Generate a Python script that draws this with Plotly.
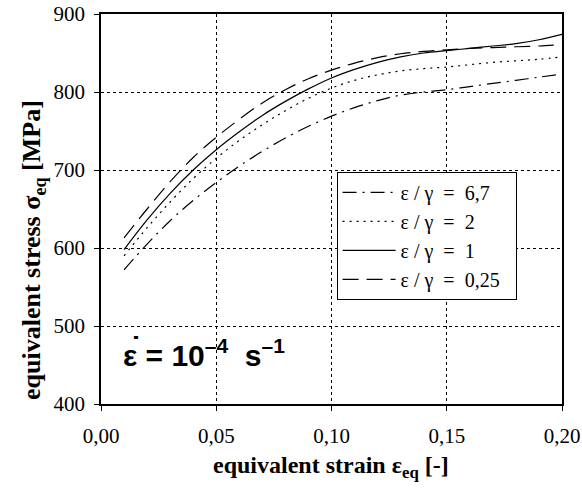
import plotly.graph_objects as go

# equivalent strain (-)
strain = [0.01, 0.02, 0.03, 0.04, 0.05, 0.06, 0.07, 0.08, 0.09, 0.10,
          0.11, 0.12, 0.13, 0.14, 0.15, 0.16, 0.17, 0.18, 0.19, 0.20]

# equivalent stress (MPa) for each strain ratio
stress_6_7 = [572, 605, 635, 661, 684, 705, 724, 741, 756, 769,
              780, 789, 796, 800, 803, 807, 811, 815, 819, 823]
stress_2 = [590, 626, 659, 689, 715, 738, 758, 776, 792, 805,
            815, 822, 827, 830, 832, 835, 838, 840, 842, 845]
stress_1 = [598, 636, 670, 700, 726, 749, 770, 788, 804, 818,
            829, 838, 845, 850, 853, 856, 859, 862, 867, 874]
stress_0_25 = [613, 650, 685, 716, 742, 765, 786, 803, 817, 828,
               837, 844, 849, 852, 854, 856, 857, 858, 859, 861]

labels = ["ε / γ  =  6,7", "ε / γ  =  2", "ε / γ  =  1", "ε / γ  =  0,25"]
series = [stress_6_7, stress_2, stress_1, stress_0_25]
dashes = ["14px,6px,2px,6px", "2px,5px", "solid", "16px,8px"]

fig = go.Figure()
for name, ys, dash in zip(labels, series, dashes):
    fig.add_trace(go.Scatter(
        x=strain, y=ys, mode="lines", name=name + "\u00a0\u00a0",
        line=dict(color="black", width=1.2, dash=dash, shape="spline"),
    ))

serif = "Liberation Serif"
sans = "Liberation Sans"

fig.update_layout(
    width=582, height=494,
    margin=dict(l=101, r=20, t=14, b=90, autoexpand=False),
    paper_bgcolor="white", plot_bgcolor="white",
    separators=",.",
    font=dict(family=serif, color="black", size=20, weight=400),
    showlegend=True,
    legend=dict(
        x=0.511, y=0.595, xanchor="left", yanchor="top",
        bgcolor="white", bordercolor="black", borderwidth=1,
        font=dict(family=serif, size=20, weight=400, color="black"),
        tracegroupgap=0, itemwidth=53,
    ),
    xaxis=dict(
        range=[0, 0.2], dtick=0.05, tickformat=".2f",
        showline=True, linecolor="black", linewidth=1.5, mirror=True,
        ticks="outside", ticklen=5, tickcolor="black",
        showgrid=True, gridcolor="black", griddash="dot", gridwidth=1,
        zeroline=False, automargin=False, ticklabelstandoff=7,
        tickfont=dict(family=serif, size=21, weight=400, color="black"),
    ),
    yaxis=dict(
        range=[400, 900], dtick=100,
        showline=True, linecolor="black", linewidth=1.5, mirror=True,
        ticks="outside", ticklen=5, tickcolor="black",
        showgrid=True, gridcolor="black", griddash="dot", gridwidth=1,
        zeroline=False, automargin=False, ticklabelstandoff=5,
        tickfont=dict(family=serif, size=21, weight=400, color="black"),
    ),
)

# axis titles
fig.add_annotation(
    x=0.499, y=-0.1615, xref="paper", yref="paper",
    xanchor="center", yanchor="middle", showarrow=False,
    text="<b>equivalent strain ε<sub>eq</sub> [-]</b>",
    font=dict(family=serif, size=24, color="black"),
)
fig.add_annotation(
    x=-0.1475, y=0.395, xref="paper", yref="paper",
    xanchor="center", yanchor="middle", showarrow=False, textangle=-90,
    text="<b>equivalent stress σ<sub>eq</sub> [MPa]</b>",
    font=dict(family=serif, size=26, color="black"),
)

# strain-rate label with the time-derivative dot placed above the epsilon
fig.add_annotation(
    x=0.0088, y=465, xref="x", yref="y", xanchor="left", yanchor="middle",
    text="<b>ε = 10<sup>–4</sup>  s<sup>–1</sup></b>", showarrow=False,
    font=dict(family=sans, size=30, color="black"),
)
fig.add_annotation(
    x=0.0152, y=472, xref="x", yref="y", xanchor="center", yanchor="middle",
    text="<b>˙</b>", showarrow=False,
    font=dict(family=sans, size=30, color="black"),
)

fig.write_html("out.html")
